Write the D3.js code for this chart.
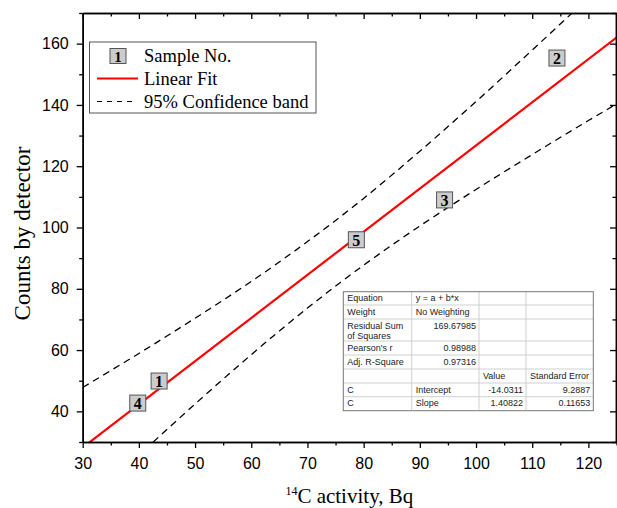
<!DOCTYPE html>
<html>
<head>
<meta charset="utf-8">
<script src="https://cdn.jsdelivr.net/npm/d3@7"></script>
<style>
  body { margin: 0; background: #fff; }
  svg { display: block; }
</style>
</head>
<body>
<div id="chart"></div>
<script>
// Sample points (label, 14C activity, counts)
const sampleIds = ['1', '2', '3', '4', '5'];
const sampleX = [43.6, 114.4, 94.4, 39.8, 78.7];
const sampleY = [49.9, 155.3, 109.0, 42.7, 96.0];

// Linear fit end points
const fitX = [30, 125];
const fitY = [28.2, 162.0];

// 95% confidence band
const bandX = [30, 40, 50, 60, 70, 80, 90, 100, 110, 120, 125];
const bandUpper = [47.8, 58.9, 70.4, 82.4, 95.4, 109.5, 124.9, 141.1, 157.9, 175.0, 183.7];
const bandLower = [8.6, 25.7, 42.4, 58.5, 73.7, 87.7, 100.5, 112.4, 123.8, 134.9, 140.3];

const xTicks = [30, 40, 50, 60, 70, 80, 90, 100, 110, 120];
const xMinor = [35, 45, 55, 65, 75, 85, 95, 105, 115, 125];
const yTicks = [40, 60, 80, 100, 120, 140, 160];
const yMinor = [30, 50, 70, 90, 110, 130, 150, 170];

const legendLabels = ['Sample No.', 'Linear Fit', '95% Confidence band'];

const tableRows = [
  ['Equation', 'y = a + b*x', '', ''],
  ['Weight', 'No Weighting', '', ''],
  ['Residual Sum|of Squares', '169.67985', '', ''],
  ["Pearson's r", '0.98988', '', ''],
  ['Adj. R-Square', '0.97316', '', ''],
  ['', '', 'Value', 'Standard Error'],
  ['C', 'Intercept', '-14.0311', '9.2887'],
  ['C', 'Slope', '1.40822', '0.11653']
];

const width = 617, height = 508;
const plot = {left: 82.7, right: 616, top: 13, bottom: 442};

const svg = d3.select('#chart').append('svg')
  .attr('width', width).attr('height', height);

const x = d3.scaleLinear().domain([30, 125]).range([plot.left, plot.right + 0.5]);
const y = d3.scaleLinear().domain([30, 170]).range([plot.bottom, plot.top]);

svg.append('defs').append('clipPath').attr('id', 'clip')
  .append('rect')
  .attr('x', plot.left).attr('y', plot.top)
  .attr('width', plot.right - plot.left).attr('height', plot.bottom - plot.top);

const g = svg.append('g').attr('clip-path', 'url(#clip)');

// confidence band
const bandLine = d3.line().curve(d3.curveMonotoneX);
[bandUpper, bandLower].forEach(vals => {
  g.append('path')
    .attr('d', bandLine(bandX.map((d, i) => [x(d), y(vals[i])])))
    .attr('fill', 'none')
    .attr('stroke', '#000')
    .attr('stroke-width', 1.3)
    .attr('stroke-dasharray', '7,5');
});

// linear fit
g.append('path')
  .attr('d', d3.line()(fitX.map((d, i) => [x(d), y(fitY[i])])))
  .attr('fill', 'none')
  .attr('stroke', '#ff0000')
  .attr('stroke-width', 2.2);

// sample markers
const markers = g.selectAll('.marker')
  .data(sampleIds)
  .enter().append('g')
    .attr('transform', (d, i) => `translate(${x(sampleX[i])},${y(sampleY[i])})`);
markers.append('rect')
  .attr('x', -8).attr('y', -8).attr('width', 16).attr('height', 16)
  .attr('fill', '#cccccc').attr('stroke', '#555').attr('stroke-width', 1);
markers.append('text')
  .attr('text-anchor', 'middle').attr('y', 6)
  .attr('font-family', 'Liberation Serif, serif')
  .attr('font-weight', 'bold').attr('font-size', 16)
  .text(d => d);

// axes
function styleAxis(sel) {
  sel.select('.domain').attr('stroke', '#000').attr('stroke-width', 1.5);
  sel.selectAll('.tick line').attr('stroke', '#000').attr('stroke-width', 1.3);
  sel.selectAll('.tick text').attr('fill', '#000')
    .attr('font-family', 'Liberation Sans, Arial, sans-serif').attr('font-size', 16);
}

const axes = svg.append('g');
axes.append('g').attr('transform', `translate(0,${plot.bottom})`)
  .call(d3.axisBottom(x).tickValues(xTicks).tickSize(6).tickSizeOuter(0).tickPadding(10))
  .call(styleAxis);
axes.append('g').attr('transform', `translate(0,${plot.bottom})`)
  .call(d3.axisBottom(x).tickValues(xMinor).tickSize(3.5).tickSizeOuter(0).tickFormat(''))
  .call(styleAxis);
axes.append('g').attr('transform', `translate(0,${plot.top})`)
  .call(d3.axisTop(x).tickValues(xTicks).tickSize(-6).tickSizeOuter(0).tickFormat(''))
  .call(styleAxis);
axes.append('g').attr('transform', `translate(0,${plot.top})`)
  .call(d3.axisTop(x).tickValues(xMinor).tickSize(-3.5).tickSizeOuter(0).tickFormat(''))
  .call(styleAxis);
axes.append('g').attr('transform', `translate(${plot.left},0)`)
  .call(d3.axisLeft(y).tickValues(yTicks).tickSize(6).tickSizeOuter(0).tickPadding(8))
  .call(styleAxis);
axes.append('g').attr('transform', `translate(${plot.left},0)`)
  .call(d3.axisLeft(y).tickValues(yMinor).tickSize(3.5).tickSizeOuter(0).tickFormat(''))
  .call(styleAxis);
axes.append('g').attr('transform', `translate(${plot.right},0)`)
  .call(d3.axisRight(y).tickValues(yTicks).tickSize(-6).tickSizeOuter(0).tickFormat(''))
  .call(styleAxis);
axes.append('g').attr('transform', `translate(${plot.right},0)`)
  .call(d3.axisRight(y).tickValues(yMinor).tickSize(-3.5).tickSizeOuter(0).tickFormat(''))
  .call(styleAxis);

// axis titles
const xTitle = svg.append('text')
  .attr('x', (plot.left + plot.right) / 2).attr('y', 503)
  .attr('text-anchor', 'middle')
  .attr('font-family', 'Liberation Serif, serif').attr('font-size', 21);
xTitle.append('tspan').attr('font-size', 12).attr('dy', -8).text('14');
xTitle.append('tspan').attr('dy', 8).text('C activity, Bq');

svg.append('text')
  .attr('transform', `translate(30,${(plot.top + plot.bottom) / 2 + 6}) rotate(-90)`)
  .attr('text-anchor', 'middle')
  .attr('font-family', 'Liberation Serif, serif').attr('font-size', 23)
  .text('Counts by detector');

// legend
const legend = svg.append('g');
legend.append('rect')
  .attr('x', 89.5).attr('y', 42).attr('width', 226.5).attr('height', 71)
  .attr('fill', '#fff').attr('stroke', '#555').attr('stroke-width', 1);
const rowY = [56, 78.5, 101.5];
legend.append('rect')
  .attr('x', 110).attr('y', rowY[0] - 7.5).attr('width', 16).attr('height', 15)
  .attr('fill', '#cccccc').attr('stroke', '#555');
legend.append('text')
  .attr('x', 118).attr('y', rowY[0] + 5.5).attr('text-anchor', 'middle')
  .attr('font-family', 'Liberation Serif, serif').attr('font-weight', 'bold').attr('font-size', 15)
  .text('1');
legend.append('line')
  .attr('x1', 97).attr('x2', 138).attr('y1', rowY[1]).attr('y2', rowY[1])
  .attr('stroke', '#ff0000').attr('stroke-width', 2.2);
legend.append('line')
  .attr('x1', 97).attr('x2', 136).attr('y1', rowY[2]).attr('y2', rowY[2])
  .attr('stroke', '#000').attr('stroke-width', 1.2).attr('stroke-dasharray', '5,5');
legend.selectAll('.ltext')
  .data(legendLabels)
  .enter().append('text')
    .attr('x', 144).attr('y', (d, i) => rowY[i] + 6)
    .attr('font-family', 'Liberation Serif, serif').attr('font-size', 18.5)
    .text(d => d);

// fit result table
const colX = [343.3, 411.7, 479, 526, 593.3];
const rowTop = [291.7, 305, 319, 341, 355, 369, 383, 396.7, 410.7];
const table = svg.append('g')
  .attr('font-family', 'Liberation Sans, Arial, sans-serif').attr('font-size', 9)
  .attr('fill', '#222');
table.append('rect')
  .attr('x', colX[0]).attr('y', rowTop[0])
  .attr('width', colX[4] - colX[0]).attr('height', rowTop[8] - rowTop[0])
  .attr('fill', '#fff');
rowTop.slice(1, -1).forEach(r => {
  table.append('line').attr('x1', colX[0]).attr('x2', colX[4]).attr('y1', r).attr('y2', r)
    .attr('stroke', '#cfcfcf').attr('stroke-width', 1);
});
colX.slice(1, -1).forEach(c => {
  table.append('line').attr('x1', c).attr('x2', c).attr('y1', rowTop[0]).attr('y2', rowTop[8])
    .attr('stroke', '#cfcfcf').attr('stroke-width', 1);
});
table.append('rect')
  .attr('x', colX[0]).attr('y', rowTop[0])
  .attr('width', colX[4] - colX[0]).attr('height', rowTop[8] - rowTop[0])
  .attr('fill', 'none').attr('stroke', '#777').attr('stroke-width', 1);

tableRows.forEach((row, ri) => {
  row.forEach((cell, ci) => {
    if (!cell) return;
    const numeric = /^-?[\d.]+$/.test(cell);
    const t = table.append('text')
      .attr('x', numeric ? colX[ci + 1] - 3 : colX[ci] + 4)
      .attr('text-anchor', numeric ? 'end' : 'start');
    cell.split('|').forEach((part, k) => {
      t.append('tspan')
        .attr('x', numeric ? colX[ci + 1] - 3 : colX[ci] + 4)
        .attr('y', rowTop[ri] + 9.5 + k * 10)
        .text(part);
    });
  });
});
</script>
</body>
</html>
